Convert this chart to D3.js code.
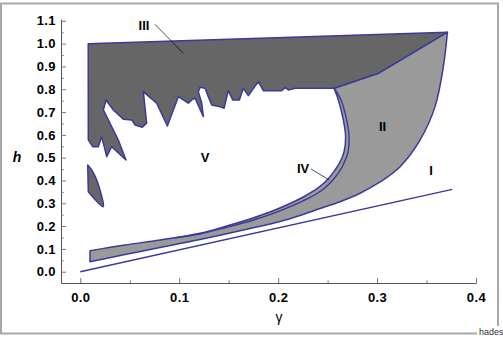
<!DOCTYPE html>
<html lang="en">
<head>
<meta charset="UTF-8">
<script src="https://d3js.org/d3.v7.min.js"></script>
<style>
  body { margin: 0; background: #fff; }
  svg { display: block; font-family: "Liberation Sans", Arial, sans-serif; }
  .tick text { font-size: 13px; font-weight: bold; fill: #000; letter-spacing: 0.4px; }
  .region { font-size: 13px; font-weight: bold; }
</style>
</head>
<body>
<div id="chart"></div>
<script>
// straight boundary of region I
const lineI = [[0, 0], [0.376, 0.361]];

// outer right boundary of region II, continuing as lower edge of the band
const curveA = [
  [0.0098, 0.0439], [0.0452, 0.0754], [0.0806, 0.1061], [0.1210, 0.1412],
  [0.1716, 0.1895], [0.2019, 0.2202], [0.2221, 0.2465], [0.2424, 0.2772],
  [0.2626, 0.3070], [0.2828, 0.3439], [0.3030, 0.3934], [0.3233, 0.4605],
  [0.3435, 0.5776], [0.3586, 0.7237], [0.3670, 0.8991], [0.3711, 1.0500]
];

// upper edge of region II (shared with III)
const topII = [[0.3711, 1.0500], [0.3020, 0.8715], [0.2565, 0.8044]];

// left boundary of region IV (towards V)
const curveB1 = [
  [0.2565, 0.8044], [0.2609, 0.7531], [0.2659, 0.6654], [0.2682, 0.5908],
  [0.2666, 0.5250], [0.2621, 0.4768], [0.2575, 0.4461], [0.2505, 0.4066],
  [0.2403, 0.3671], [0.2272, 0.3320], [0.2120, 0.2991], [0.1918, 0.2618],
  [0.1716, 0.2311], [0.1463, 0.1982], [0.1210, 0.1684], [0.0806, 0.1390],
  [0.0452, 0.1171], [0.0098, 0.0921]
];

// boundary between IV and II
const curveB2 = [
  [0.2565, 0.8044], [0.2636, 0.7531], [0.2692, 0.6654], [0.2717, 0.5908],
  [0.2707, 0.5250], [0.2661, 0.4724], [0.2616, 0.4373], [0.2545, 0.3978],
  [0.2439, 0.3561], [0.2302, 0.3211], [0.2151, 0.2904], [0.1938, 0.2531],
  [0.1736, 0.2246], [0.1473, 0.1939], [0.1210, 0.1654], [0.0958, 0.1487]
];

// region III (jagged dark area)
const regionIII = [
  [0.0080, 1.0000], [0.3711, 1.0500], [0.3020, 0.8715], [0.2565, 0.8044],
  [0.2171, 0.8044], [0.2103, 0.7969], [0.2070, 0.8070], [0.2036, 0.7939],
  [0.1850, 0.7939], [0.1800, 0.8333], [0.1699, 0.7719], [0.1648, 0.8044],
  [0.1608, 0.7531], [0.1541, 0.7531], [0.1496, 0.7939], [0.1453, 0.7167],
  [0.1413, 0.7237], [0.1329, 0.7311], [0.1294, 0.7675], [0.1261, 0.8044],
  [0.1210, 0.8088], [0.1193, 0.7895], [0.1228, 0.7386], [0.1244, 0.6798],
  [0.1160, 0.7605], [0.1126, 0.7531], [0.1092, 0.7386], [0.0991, 0.7675],
  [0.0880, 0.6390], [0.0772, 0.7386], [0.0637, 0.7895], [0.0671, 0.6509],
  [0.0627, 0.6333], [0.0553, 0.6434], [0.0520, 0.6654], [0.0435, 0.6684],
  [0.0334, 0.7092], [0.0260, 0.7531], [0.0233, 0.7092], [0.0384, 0.5776],
  [0.0462, 0.4899], [0.0317, 0.5482], [0.0267, 0.5044], [0.0216, 0.5921],
  [0.0182, 0.5482], [0.0125, 0.5482], [0.0081, 0.5776]
];

// small island of region III
const islandIII = [
  [0.0075, 0.4680], [0.0115, 0.4461], [0.0159, 0.4096], [0.0199, 0.3583],
  [0.0233, 0.2851], [0.0081, 0.3509]
];

const regionNames = ["I", "II", "III", "IV", "V"];
const regionPos = [[0.3546, 0.446], [0.3056, 0.639], [0.0644, 1.078], [0.2252, 0.4548], [0.1261, 0.503]];
const pointers = [
  [[0.0755, 1.0847], [0.1041, 0.958]],
  [[0.2333, 0.4504], [0.2515, 0.4022]]
];

const xTicks = [0, 0.1, 0.2, 0.3, 0.4];
const xMinor = [0.05, 0.15, 0.25, 0.35];
const yTicks = d3.range(0, 12).map(i => i / 10);
const yMinor = d3.range(0, 11).map(i => i / 10 + 0.05);

const W = 503, H = 338;
const blue = "#3a3a9c";

const svg = d3.select("#chart").append("svg")
  .attr("width", W).attr("height", H);

// frame
svg.append("rect")
  .attr("x", 1).attr("y", 3.5).attr("width", 497).attr("height", 330)
  .attr("fill", "#fff").attr("stroke", "#a8a8a8").attr("stroke-width", 2);

const x = d3.scaleLinear().domain([-0.0195, 0.4]).range([61, 476]);
const y = d3.scaleLinear().domain([-0.0496, 1.108]).range([283, 19]);

const line = d3.line().x(d => x(d[0])).y(d => y(d[1]));
const smooth = d3.line().x(d => x(d[0])).y(d => y(d[1])).curve(d3.curveCatmullRom.alpha(0.5));

// light region (II + IV + band): smooth A, straight top, smooth B1
const lightPath = smooth(curveA)
  + line(topII.slice(1)).replace(/^M/, "L")
  + smooth(curveB1).replace(/^M/, "L") + "Z";
svg.append("path")
  .attr("d", lightPath)
  .attr("fill", "#9a9a9a")
  .attr("stroke", blue).attr("stroke-width", 1.5)
  .attr("stroke-linejoin", "round");

svg.append("path")
  .attr("d", smooth(curveB2))
  .attr("fill", "none")
  .attr("stroke", blue).attr("stroke-width", 1.4);

// dark region III
svg.append("path")
  .attr("d", line(regionIII) + "Z")
  .attr("fill", "#666")
  .attr("stroke", blue).attr("stroke-width", 1.5)
  .attr("stroke-linejoin", "round");

svg.append("path")
  .attr("d", smooth(islandIII) + "Z")
  .attr("fill", "#666")
  .attr("stroke", blue).attr("stroke-width", 1.5)
  .attr("stroke-linejoin", "round");

// line I
svg.append("path")
  .attr("d", line(lineI))
  .attr("fill", "none")
  .attr("stroke", blue).attr("stroke-width", 1.5);

// pointers
pointers.forEach(p => {
  svg.append("path")
    .attr("d", line(p))
    .attr("stroke", "#000").attr("stroke-width", 0.7).attr("fill", "none");
});

// region labels
svg.selectAll(".region")
  .data(regionNames)
  .enter().append("text")
  .attr("class", "region")
  .attr("x", (d, i) => x(regionPos[i][0]))
  .attr("y", (d, i) => y(regionPos[i][1]))
  .attr("dy", "0.35em")
  .attr("text-anchor", "middle")
  .text(d => d);

// axes
const axisColor = "#555";
svg.append("g")
  .attr("transform", `translate(${x.range()[0]},0)`)
  .call(d3.axisLeft(y).tickValues(yTicks).tickFormat(d3.format(".1f"))
    .tickSize(-5).tickSizeOuter(0).tickPadding(5));
svg.append("g")
  .attr("transform", `translate(${x.range()[0]},0)`)
  .call(d3.axisLeft(y).tickValues(yMinor).tickFormat("").tickSize(-2.7).tickSizeOuter(0))
  .select(".domain").remove();

svg.append("g")
  .attr("transform", `translate(0,${y.range()[0]})`)
  .call(d3.axisBottom(x).tickValues(xTicks).tickFormat(d3.format(".1f"))
    .tickSize(-5).tickSizeOuter(0).tickPadding(9.5));
svg.append("g")
  .attr("transform", `translate(0,${y.range()[0]})`)
  .call(d3.axisBottom(x).tickValues(xMinor).tickFormat("").tickSize(-2.7).tickSizeOuter(0))
  .select(".domain").remove();

svg.selectAll(".domain").attr("stroke", axisColor);
svg.selectAll(".tick line").attr("stroke", "#777");

// axis titles
svg.append("text")
  .attr("x", 17).attr("y", 157).attr("dy", "0.35em")
  .attr("text-anchor", "middle")
  .style("font-size", "14px").style("font-weight", "bold").style("font-style", "italic")
  .text("h");

svg.append("text")
  .attr("x", 279).attr("y", 317).attr("dy", "0.35em")
  .attr("text-anchor", "middle")
  .style("font-size", "14px")
  .text("γ");

// credit tag
svg.append("rect")
  .attr("x", 477).attr("y", 326).attr("width", 26).attr("height", 12).attr("fill", "#fff");
svg.append("text")
  .attr("x", 479).attr("y", 335)
  .style("font-size", "9px").attr("fill", "#333")
  .text("hades");
</script>
</body>
</html>
